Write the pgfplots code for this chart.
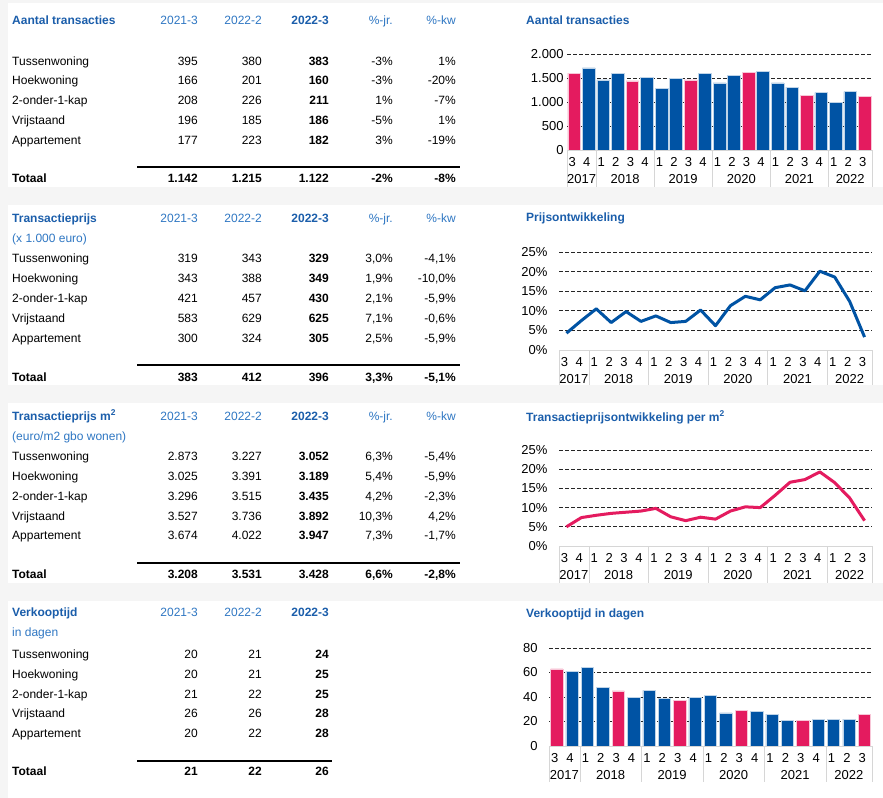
\documentclass[border=0pt]{standalone}
\usepackage{fontspec}
\setmainfont{Liberation Sans}
\usepackage{pgfplots}
\pgfplotsset{compat=1.18}

\definecolor{tblue}{HTML}{1B5EAB}
\definecolor{hblue}{HTML}{2F77C3}
\definecolor{bblue}{HTML}{0053A4}
\definecolor{bpink}{HTML}{E41B5F}
\definecolor{bg}{HTML}{F5F5F5}
\definecolor{sep}{HTML}{D6D6D6}

\newcommand\fs{\fontsize{12bp}{14bp}\selectfont}
\newcommand\tf{\fontsize{13bp}{15bp}\selectfont}

% table helpers: baseline y in px
\newcommand\Lt[3]{\node[anchor=base west,inner sep=0] at (#1bp,-#2bp) {#3};}
\newcommand\Rt[3]{\node[anchor=base east,inner sep=0] at (#1bp,-#2bp) {#3};}
\newcommand\trow[7]{\Lt{12}{#1}{#2}\Rt{198}{#1}{#3}\Rt{262}{#1}{#4}\Rt{329}{#1}{\textbf{#5}}\Rt{393}{#1}{#6}\Rt{456}{#1}{#7}}
\newcommand\head[2]{\Lt{12}{#1}{\color{tblue}\textbf{#2}}\Rt{198}{#1}{\color{hblue}2021-3}\Rt{262}{#1}{\color{hblue}2022-2}\Rt{329}{#1}{\color{tblue}\textbf{2022-3}}}
\newcommand\headp[1]{\Rt{393}{#1}{\color{hblue}\%-jr.}\Rt{456}{#1}{\color{hblue}\%-kw}}

% category box below a quarterly axis
\newcommand\cats[1]{%
  \draw[sep] (axis cs:-0.5,0) -- (axis cs:20.5,0);
  \draw[sep] (axis cs:-0.5,0) -- ++(0pt,-#1bp);
  \draw[sep] (axis cs:1.5,0) -- ++(0pt,-#1bp);
  \draw[sep] (axis cs:5.5,0) -- ++(0pt,-#1bp);
  \draw[sep] (axis cs:9.5,0) -- ++(0pt,-#1bp);
  \draw[sep] (axis cs:13.5,0) -- ++(0pt,-#1bp);
  \draw[sep] (axis cs:17.5,0) -- ++(0pt,-#1bp);
  \draw[sep] (axis cs:20.5,0) -- ++(0pt,-#1bp);
  \node[anchor=base,font=\tf] at ([yshift=-33bp]axis cs:0.5,0) {2017};
  \node[anchor=base,font=\tf] at ([yshift=-33bp]axis cs:3.5,0) {2018};
  \node[anchor=base,font=\tf] at ([yshift=-33bp]axis cs:7.5,0) {2019};
  \node[anchor=base,font=\tf] at ([yshift=-33bp]axis cs:11.5,0) {2020};
  \node[anchor=base,font=\tf] at ([yshift=-33bp]axis cs:15.5,0) {2021};
  \node[anchor=base,font=\tf] at ([yshift=-33bp]axis cs:19,0) {2022};
}

\pgfplotsset{
  qaxis/.style={
    scale only axis, anchor=south west, clip=false,
    xmin=-0.5, xmax=20.5, ymin=0,
    axis line style={draw=none}, tick style={draw=none},
    xtick={0,...,20},
    xticklabels={3,4,1,2,3,4,1,2,3,4,1,2,3,4,1,2,3,4,1,2,3},
    xticklabel style={anchor=base, yshift=-16bp, xshift=-2bp},
    ticklabel style={font=\tf},
    /pgf/number format/assume math mode=true,
    ymajorgrids,
    major grid style={black!85, dash pattern=on 3.5bp off 2.5bp, line width=0.8bp},
    extra y ticks={0}, extra y tick style={grid=none},
  },
  qbar/.style={ybar, bar shift=0pt, draw=white!75!#1, line width=0.5bp, fill=#1},
}

\begin{document}
\begin{tikzpicture}
\path[use as bounding box] (0,0) rectangle (883bp,-798bp);
\fill[bg] (0,0) rectangle (883bp,-798bp);
\fill[white] (8bp,-3bp) rectangle (883bp,-187bp);
\fill[white] (8bp,-205bp) rectangle (883bp,-385bp);
\fill[white] (8bp,-403bp) rectangle (883bp,-583bp);
\fill[white] (8bp,-601bp) rectangle (883bp,-798bp);

\begin{scope}[font=\fs]
% ---- table 1
\head{24}{Aantal transacties}\headp{24}
\trow{65}{Tussenwoning}{395}{380}{383}{-3\%}{1\%}
\trow{84.5}{Hoekwoning}{166}{201}{160}{-3\%}{-20\%}
\trow{104.5}{2-onder-1-kap}{208}{226}{211}{1\%}{-7\%}
\trow{124}{Vrijstaand}{196}{185}{186}{-5\%}{1\%}
\trow{144}{Appartement}{177}{223}{182}{3\%}{-19\%}
\draw[line width=1.4bp] (137bp,-167bp) -- (460bp,-167bp);
\trow{182}{\textbf{Totaal}}{\textbf{1.142}}{\textbf{1.215}}{1.122}{\textbf{-2\%}}{\textbf{-8\%}}

% ---- table 2
\head{222}{Transactieprijs}\headp{222}
\Lt{12}{242}{\color{hblue}(x 1.000 euro)}
\trow{262}{Tussenwoning}{319}{343}{329}{3,0\%}{-4,1\%}
\trow{282}{Hoekwoning}{343}{388}{349}{1,9\%}{-10,0\%}
\trow{302}{2-onder-1-kap}{421}{457}{430}{2,1\%}{-5,9\%}
\trow{322}{Vrijstaand}{583}{629}{625}{7,1\%}{-0,6\%}
\trow{342}{Appartement}{300}{324}{305}{2,5\%}{-5,9\%}
\draw[line width=1.4bp] (137bp,-365bp) -- (460bp,-365bp);
\trow{381}{\textbf{Totaal}}{\textbf{383}}{\textbf{412}}{396}{\textbf{3,3\%}}{\textbf{-5,1\%}}

% ---- table 3
\head{420}{Transactieprijs m\textsuperscript{2}}\headp{420}
\Lt{12}{440}{\color{hblue}(euro/m2 gbo wonen)}
\trow{460}{Tussenwoning}{2.873}{3.227}{3.052}{6,3\%}{-5,4\%}
\trow{480}{Hoekwoning}{3.025}{3.391}{3.189}{5,4\%}{-5,9\%}
\trow{500}{2-onder-1-kap}{3.296}{3.515}{3.435}{4,2\%}{-2,3\%}
\trow{520}{Vrijstaand}{3.527}{3.736}{3.892}{10,3\%}{4,2\%}
\trow{539}{Appartement}{3.674}{4.022}{3.947}{7,3\%}{-1,7\%}
\draw[line width=1.4bp] (137bp,-563bp) -- (460bp,-563bp);
\trow{578}{\textbf{Totaal}}{\textbf{3.208}}{\textbf{3.531}}{3.428}{\textbf{6,6\%}}{\textbf{-2,8\%}}

% ---- table 4
\head{616}{Verkooptijd}
\Lt{12}{636}{\color{hblue}in dagen}
\trow{658}{Tussenwoning}{20}{21}{24}{}{}
\trow{678}{Hoekwoning}{20}{21}{25}{}{}
\trow{698}{2-onder-1-kap}{21}{22}{25}{}{}
\trow{717}{Vrijstaand}{26}{26}{28}{}{}
\trow{737}{Appartement}{20}{22}{28}{}{}
\draw[line width=1.4bp] (137bp,-761bp) -- (332bp,-761bp);
\trow{775}{\textbf{Totaal}}{\textbf{21}}{\textbf{22}}{26}{}{}

% ---- chart titles
\Lt{526}{24}{\color{tblue}\textbf{Aantal transacties}}
\Lt{526}{221}{\color{tblue}\textbf{Prijsontwikkeling}}
\Lt{526}{421}{\color{tblue}\textbf{Transactieprijsontwikkeling per m\textsuperscript{2}}}
\Lt{526}{617}{\color{tblue}\textbf{Verkooptijd in dagen}}
\end{scope}

% ---- chart 1: aantal transacties
\begin{axis}[qaxis, at={(567bp,-150bp)}, width=305bp, height=96bp,
  ymax=2000, ytick={500,1000,1500,2000},
  yticklabel style={/pgf/number format/1000 sep={.}}]
\addplot[qbar=bblue, bar width=12.7bp] coordinates {
  (1,1710) (2,1460) (3,1600) (5,1520) (6,1290) (7,1490) (9,1600)
  (10,1400) (11,1560) (13,1640) (14,1400) (15,1310) (17,1195) (18,985) (19,1215)};
\addplot[qbar=bpink, bar width=12.7bp] coordinates {
  (0,1600) (4,1440) (8,1460) (12,1620) (16,1142) (20,1122)};
\cats{37}
\end{axis}

% ---- chart 2: prijsontwikkeling
\begin{axis}[qaxis, at={(559bp,-350bp)}, width=313bp, height=98bp,
  ymax=25, ytick={5,10,15,20,25},
  yticklabel={\pgfmathprintnumber{\tick}\%}, yticklabel style={xshift=-8bp}]
\addplot[bblue, line width=3bp, mark=none, line join=round] coordinates {
  (0,4.3) (1,7.5) (2,10.5) (3,7.0) (4,9.8) (5,7.3) (6,8.7) (7,7.0) (8,7.3)
  (9,10.2) (10,6.2) (11,11.3) (12,13.7) (13,12.8) (14,15.9) (15,16.6)
  (16,15.1) (17,20.1) (18,18.6) (19,12.4) (20,3.3)};
\cats{35}
\end{axis}

% ---- chart 3: transactieprijsontwikkeling per m2
\begin{axis}[qaxis, at={(559bp,-546bp)}, width=313bp, height=96bp,
  ymax=25, ytick={5,10,15,20,25},
  yticklabel={\pgfmathprintnumber{\tick}\%}, yticklabel style={xshift=-8bp}]
\addplot[bpink, line width=3bp, mark=none, line join=round] coordinates {
  (0,5.0) (1,7.4) (2,8.0) (3,8.5) (4,8.8) (5,9.1) (6,9.8) (7,7.6) (8,6.6)
  (9,7.5) (10,7.0) (11,9.1) (12,10.2) (13,10.0) (14,13.2) (15,16.6)
  (16,17.3) (17,19.3) (18,16.5) (19,12.5) (20,6.6)};
\cats{37}
\end{axis}

% ---- chart 4: verkooptijd
\begin{axis}[qaxis, at={(549bp,-746bp)}, width=323bp, height=98bp,
  ymax=80, ytick={20,40,60,80}, yticklabel style={xshift=-8bp}]
\addplot[qbar=bblue, bar width=12.3bp] coordinates {
  (1,61) (2,64) (3,48) (5,40) (6,45.5) (7,39) (9,40)
  (10,41.5) (11,27) (13,28) (14,26) (15,21) (17,22) (18,22) (19,22)};
\addplot[qbar=bpink, bar width=12.3bp] coordinates {
  (0,63) (4,45) (8,37) (12,29) (16,21) (20,26)};
\cats{36}
\end{axis}
\end{tikzpicture}
\end{document}
